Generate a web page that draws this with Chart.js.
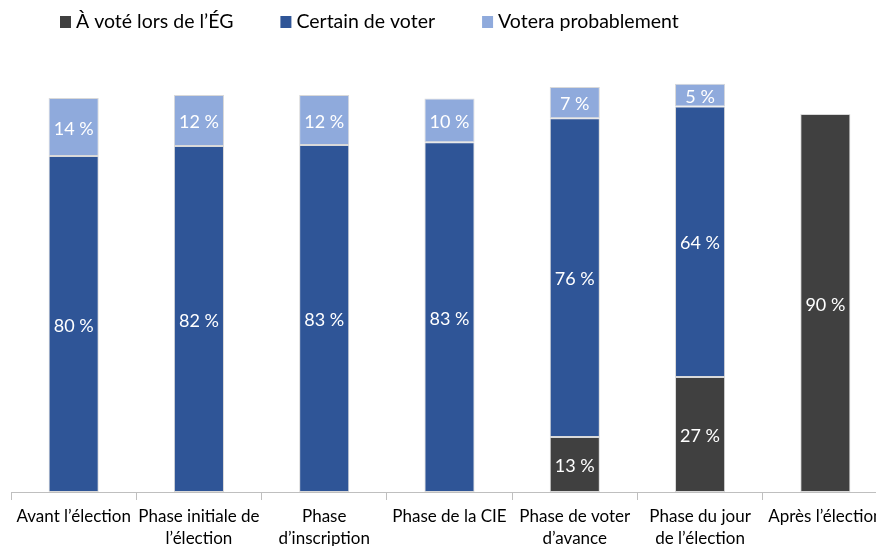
<!DOCTYPE html>
<html>
<head>
<meta charset="utf-8">
<script src="https://cdn.jsdelivr.net/npm/chart.js@4/dist/chart.umd.min.js"></script>
<style>
  html, body { margin: 0; padding: 0; background: #fff; overflow: hidden; }
  #wrap { position: relative; width: 900px; height: 546px; }
</style>
</head>
<body>
<div id="wrap"><canvas id="turnoutChart"></canvas></div>
<script>
// Data
const phases = [
  ['Avant l’élection'],
  ['Phase initiale de', 'l’élection'],
  ['Phase', 'd’inscription'],
  ['Phase de la CIE'],
  ['Phase de voter', 'd’avance'],
  ['Phase du jour', 'de l’élection'],
  ['Après l’élection']
];
const votedEG = [null, null, null, null, 13.1, 27.4, 90];
const certain = [80.0, 82.4, 82.6, 83.3, 75.9, 64.4, null];
const probable = [13.8, 12.1, 11.9, 10.4, 7.4, 5.4, null];

const seriesNames = ['À voté lors de l’ÉG', 'Certain de voter', 'Votera probablement'];
const seriesColors = ['#404040', '#2f5597', '#8faadc'];

const FONT = "Lato, 'Open Sans', sans-serif";

// white % labels centred in each segment
const segmentLabels = {
  id: 'segmentLabels',
  afterDatasetsDraw(chart) {
    const ctx = chart.ctx;
    ctx.save();
    ctx.fillStyle = '#fff';
    ctx.font = '18px ' + FONT;
    ctx.textAlign = 'center';
    ctx.textBaseline = 'middle';
    chart.data.datasets.forEach((ds, i) => {
      chart.getDatasetMeta(i).data.forEach((bar, j) => {
        const v = ds.data[j];
        if (v == null) return;
        const mid = (bar.y + bar.base) / 2;
        ctx.fillText(Math.round(v) + ' %', bar.x, mid + 2);
      });
    });
    ctx.restore();
  }
};

// legend drawn at the top like the original
const topLegend = {
  id: 'topLegend',
  afterDraw(chart) {
    const ctx = chart.ctx;
    ctx.save();
    ctx.font = '19.5px ' + FONT;
    ctx.textBaseline = 'middle';
    ctx.textAlign = 'left';
    let x = 60;
    const y = 22;
    seriesNames.forEach((name, i) => {
      ctx.fillStyle = seriesColors[i];
      ctx.fillRect(x, y - 6, 11, 12);
      ctx.fillStyle = '#000';
      ctx.fillText(name, x + 16, y);
      x += 16 + ctx.measureText(name).width + 47;
    });
    ctx.restore();
  }
};

const ctx = document.getElementById('turnoutChart').getContext('2d');
new Chart(ctx, {
  type: 'bar',
  data: {
    labels: phases,
    datasets: [
      { label: seriesNames[0], data: votedEG, backgroundColor: seriesColors[0] },
      { label: seriesNames[1], data: certain, backgroundColor: seriesColors[1] },
      { label: seriesNames[2], data: probable, backgroundColor: seriesColors[2] }
    ].map(d => Object.assign(d, {
      borderColor: '#d9d9d9',
      borderWidth: 1,
      borderSkipped: false,
      categoryPercentage: 1,
      barPercentage: 0.4
    }))
  },
  options: {
    responsive: true,
    maintainAspectRatio: false,
    animation: false,
    layout: { padding: { top: 72, left: 11, right: 12, bottom: 0 } },
    plugins: {
      legend: { display: false },
      tooltip: { enabled: false }
    },
    scales: {
      x: {
        stacked: true,
        grid: {
          offset: true,
          drawOnChartArea: false,
          drawTicks: true,
          tickLength: 8,
          color: '#bfbfbf'
        },
        border: { color: '#bfbfbf', width: 1 },
        ticks: {
          color: '#000',
          font: { family: FONT, size: 17, lineHeight: 1.3 },
          padding: 5,
          maxRotation: 0,
          autoSkip: false
        },
        afterFit: (axis) => { axis.height = 54; }
      },
      y: {
        stacked: true,
        display: false,
        min: 0,
        max: 100
      }
    }
  },
  plugins: [segmentLabels, topLegend]
});
</script>
</body>
</html>
